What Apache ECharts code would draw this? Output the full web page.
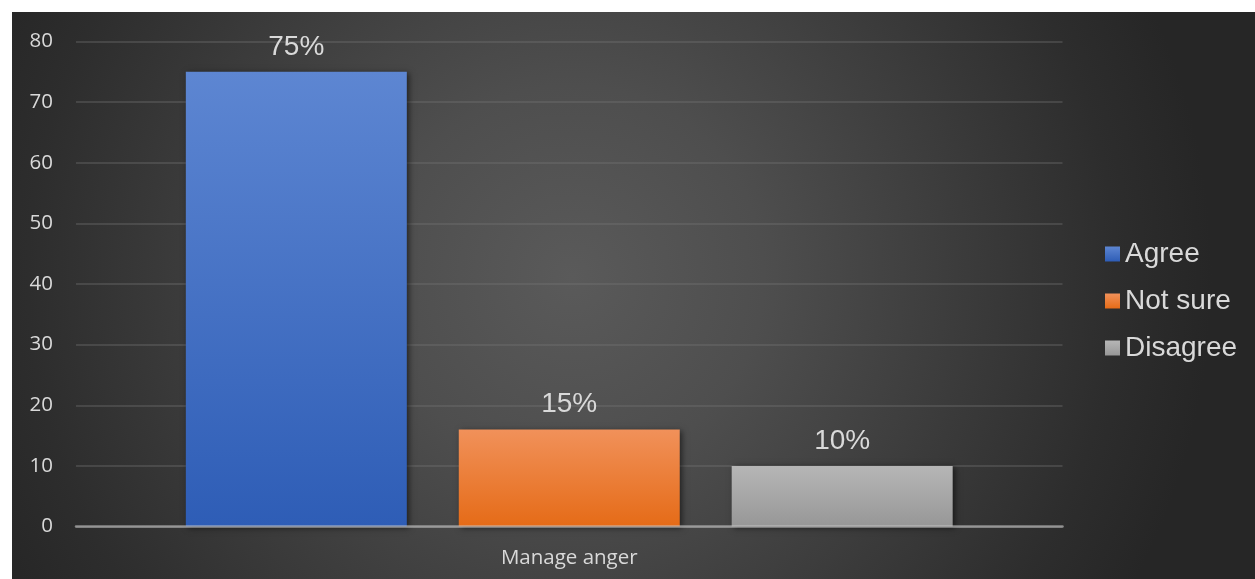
<!DOCTYPE html>
<html>
<head>
<meta charset="utf-8">
<script src="https://cdn.jsdelivr.net/npm/echarts@6/dist/echarts.min.js"></script>
<style>
  html, body { margin: 0; padding: 0; background: #ffffff; }
  #chart {
    position: absolute; left: 12px; top: 12px; width: 1243px; height: 567px;
    background: radial-gradient(circle 640px at 560px 265px, #5a5a5a 0%, #4e4e4e 30%, #3c3c3c 60%, #2d2d2d 85%, #262626 100%);
  }
</style>
</head>
<body>
<div id="chart"></div>
<script>
const categories = ['Manage anger'];
const seriesNames = ['Agree', 'Not sure', 'Disagree'];
const agreeValues = [75];
const notSureValues = [16];
const disagreeValues = [10];
const barLabels = ['75%', '15%', '10%'];
const yTicks = { min: 0, max: 80, interval: 10 };

const textColor = '#d9d9d9';
function grad(top, bottom) {
  return new echarts.graphic.LinearGradient(0, 0, 0, 1, [
    { offset: 0, color: top }, { offset: 1, color: bottom }
  ]);
}
const colors = [
  grad('#5d86d2', '#2e5db6'),
  grad('#f1915a', '#e56b17'),
  grad('#b6b6b6', '#979797')
];
const valueSets = [agreeValues, notSureValues, disagreeValues];

const chart = echarts.init(document.getElementById('chart'), null, { renderer: 'canvas' });
chart.setOption({
  backgroundColor: 'transparent',
  animation: false,
  grid: { left: 64, right: 192.5, top: 29.5, bottom: 52.5, containLabel: false },
  legend: {
    orient: 'vertical',
    left: 1088,
    top: 223,
    itemWidth: 15,
    itemHeight: 15,
    itemGap: 19,
    icon: 'rect',
    textStyle: { color: textColor, fontSize: 28, fontFamily: 'Liberation Sans, Arial, sans-serif', lineHeight: 28 },
    data: seriesNames.map((n, i) => ({ name: n, itemStyle: { color: colors[i] } }))
  },
  xAxis: {
    type: 'category',
    data: categories,
    z: 3,
    axisLine: { lineStyle: { color: 'rgba(200,200,200,0.6)', width: 2.5 } },
    axisTick: { show: false },
    axisLabel: { color: textColor, fontSize: 20.5, fontFamily: 'Open Sans, Noto Sans, sans-serif', margin: 21 }
  },
  yAxis: {
    type: 'value',
    min: yTicks.min, max: yTicks.max, interval: yTicks.interval,
    axisLine: { show: false },
    axisTick: { show: false },
    axisLabel: { color: textColor, fontSize: 20.5, fontFamily: 'Open Sans, Noto Sans, sans-serif', margin: 23 },
    splitLine: { lineStyle: { color: 'rgba(120,120,120,0.45)', width: 1.5 } }
  },
  series: seriesNames.map((name, i) => ({
    name: name,
    type: 'bar',
    data: valueSets[i],
    barWidth: 221,
    barGap: '23.5%',
    itemStyle: {
      color: colors[i],
      shadowBlur: 6,
      shadowColor: 'rgba(0,0,0,0.55)',
      shadowOffsetX: 2,
      shadowOffsetY: 1
    },
    label: {
      show: true,
      position: 'top',
      distance: 11,
      formatter: () => barLabels[i],
      color: textColor,
      fontSize: 28,
      fontFamily: 'Liberation Sans, Arial, sans-serif'
    }
  }))
});
</script>
</body>
</html>
